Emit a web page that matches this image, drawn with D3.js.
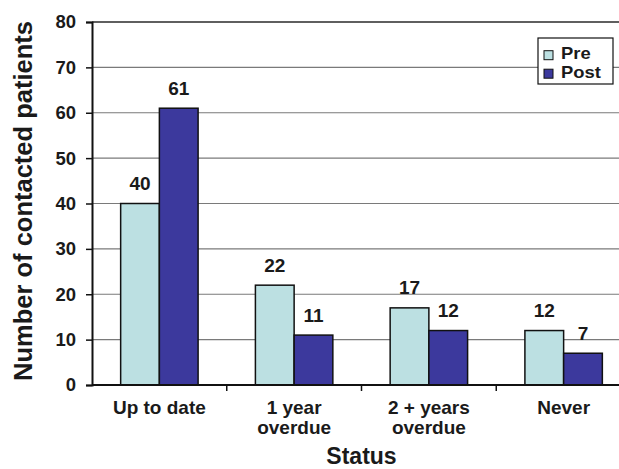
<!DOCTYPE html>
<html>
<head>
<meta charset="utf-8">
<script src="https://cdn.jsdelivr.net/npm/d3@7"></script>
<style>
  html, body { margin: 0; padding: 0; background: #fff; }
  svg { display: block; }
  text { font-family: "Liberation Sans", Arial, sans-serif; font-weight: bold; fill: #1a1a1a; }
</style>
</head>
<body>
<svg id="chart" width="619" height="469"></svg>
<script>
// Contact status counts, before and after the intervention
const categories = [["Up to date"], ["1 year", "overdue"], ["2 + years", "overdue"], ["Never"]];
const seriesNames = ["Pre", "Post"];
const preValues = [40, 22, 17, 12];
const postValues = [61, 11, 12, 7];
const yTicks = [0, 10, 20, 30, 40, 50, 60, 70, 80];
const colors = { Pre: "#bce0e2", Post: "#3c399d" };

const svg = d3.select("#chart");
const plot = { left: 92, top: 22, bottom: 385, right: 631 };

const catKeys = categories.map(c => c.join(" "));
const x0 = d3.scaleBand().domain(catKeys).range([plot.left, plot.right]).padding(0);
const x1 = d3.scaleBand().domain(seriesNames).range([0, x0.bandwidth()])
  .paddingInner(0).paddingOuter(0.74);
const y = d3.scaleLinear().domain([0, 80]).range([plot.bottom, plot.top]);

// Horizontal gridlines
svg.append("g")
  .selectAll("line")
  .data(yTicks.filter(t => t > 0 && t < 80))
  .join("line")
  .attr("x1", plot.left).attr("x2", 619)
  .attr("y1", d => y(d)).attr("y2", d => y(d))
  .attr("stroke", "#7a7a7a").attr("stroke-width", 1.2);

// Top edge of the plot area
svg.append("line")
  .attr("x1", plot.left).attr("x2", 619)
  .attr("y1", y(80)).attr("y2", y(80))
  .attr("stroke", "#2a2a2a").attr("stroke-width", 1.6);

// Bars
const rows = catKeys.map((k, i) => ({ key: k, Pre: preValues[i], Post: postValues[i] }));
const groups = svg.append("g").selectAll("g")
  .data(rows).join("g")
  .attr("transform", d => `translate(${x0(d.key)},0)`);

groups.selectAll("rect")
  .data(d => seriesNames.map(s => ({ s, v: d[s] })))
  .join("rect")
  .attr("x", d => x1(d.s))
  .attr("y", d => y(d.v))
  .attr("width", x1.bandwidth())
  .attr("height", d => y(0) - y(d.v))
  .attr("fill", d => colors[d.s])
  .attr("stroke", "#111").attr("stroke-width", 1.5);

groups.selectAll("text.val")
  .data(d => seriesNames.map(s => ({ s, v: d[s] })))
  .join("text")
  .attr("class", "val")
  .attr("x", d => x1(d.s) + x1.bandwidth() / 2)
  .attr("y", d => y(d.v) - 13.5)
  .attr("text-anchor", "middle")
  .style("font-size", "19px")
  .text(d => d.v);

// Y axis
const yAxis = svg.append("g")
  .attr("transform", `translate(${plot.left},0)`)
  .call(d3.axisLeft(y).tickValues(yTicks).tickSize(6).tickPadding(10));
yAxis.select(".domain").attr("stroke", "#111").attr("stroke-width", 2);
yAxis.selectAll(".tick line").attr("stroke", "#111").attr("stroke-width", 1.5);
yAxis.selectAll(".tick text").style("font-size", "18.5px").attr("fill", "#1a1a1a")
  .style("font-family", "'Liberation Sans', Arial, sans-serif").style("font-weight", "bold");

// X axis (line and ticks at band boundaries)
svg.append("line")
  .attr("x1", plot.left).attr("x2", 619)
  .attr("y1", plot.bottom).attr("y2", plot.bottom)
  .attr("stroke", "#111").attr("stroke-width", 2);
svg.append("g").selectAll("line")
  .data(catKeys.slice(1))
  .join("line")
  .attr("x1", d => x0(d)).attr("x2", d => x0(d))
  .attr("y1", plot.bottom).attr("y2", plot.bottom + 6)
  .attr("stroke", "#111").attr("stroke-width", 1.5);

// Category labels
const catLabels = svg.append("g").selectAll("text")
  .data(categories)
  .join("text")
  .attr("text-anchor", "middle")
  .attr("x", (d, i) => x0(catKeys[i]) + x0.bandwidth() / 2)
  .attr("y", 414)
  .style("font-size", "19px");
catLabels.selectAll("tspan")
  .data(d => d)
  .join("tspan")
  .attr("x", function () { return d3.select(this.parentNode).attr("x"); })
  .attr("dy", (d, i) => i === 0 ? 0 : 20)
  .text(d => d);

// Axis titles
svg.append("text")
  .attr("x", (plot.left + plot.right) / 2).attr("y", 464)
  .attr("text-anchor", "middle")
  .style("font-size", "23px")
  .text("Status");

svg.append("text")
  .attr("transform", "translate(32,201) rotate(-90)")
  .attr("text-anchor", "middle")
  .style("font-size", "25.5px")
  .text("Number of contacted patients");

// Legend
const legend = svg.append("g").attr("transform", "translate(538,38)");
legend.append("rect")
  .attr("width", 75).attr("height", 46)
  .attr("fill", "#fff").attr("stroke", "#111").attr("stroke-width", 1.2);
const items = legend.selectAll("g.item")
  .data(seriesNames).join("g")
  .attr("transform", (d, i) => `translate(6,${12.7 + i * 18.5})`);
items.append("rect")
  .attr("width", 9).attr("height", 9)
  .attr("fill", d => colors[d]).attr("stroke", "#111").attr("stroke-width", 1);
items.append("text")
  .attr("transform", "translate(17,8.7) scale(1.15,1)")
  .style("font-size", "16px")
  .text(d => d);
</script>
</body>
</html>
